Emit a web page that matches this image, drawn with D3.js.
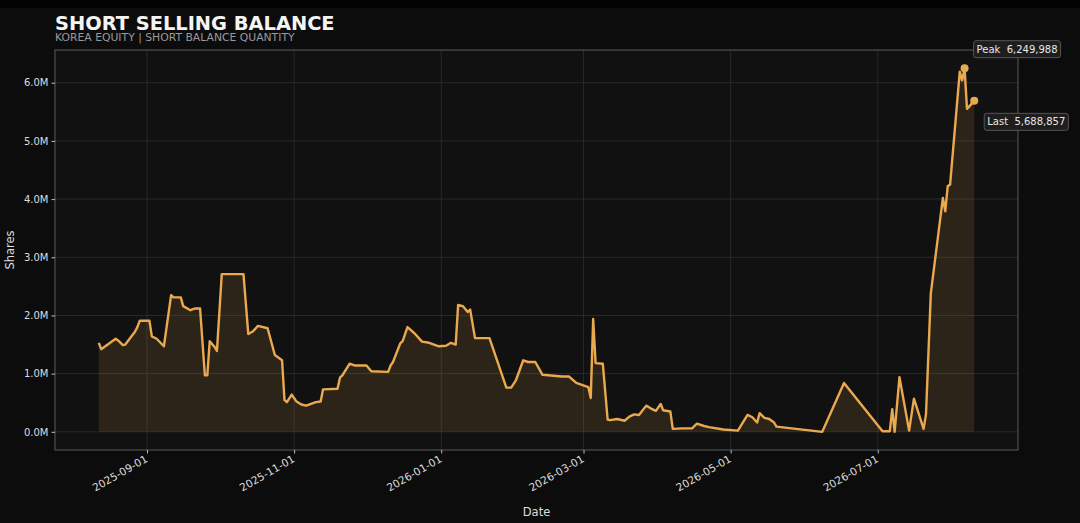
<!DOCTYPE html>
<html>
<head>
<meta charset="utf-8">
<script src="https://cdn.jsdelivr.net/npm/d3@7"></script>
<style>
  html, body { margin: 0; padding: 0; background: #0c0c0c; }
  svg { display: block; font-family: "DejaVu Sans", sans-serif; }
</style>
</head>
<body>
<div id="chart"></div>
<script>
const width = 1080;
const height = 523;

// short balance quantity (shares)
const dates = [
  "2025-08-12", "2025-08-13", "2025-08-19", "2025-08-20", "2025-08-22", "2025-08-23",
  "2025-08-27", "2025-08-28", "2025-08-29", "2025-09-02", "2025-09-03", "2025-09-05",
  "2025-09-08", "2025-09-11", "2025-09-12", "2025-09-15", "2025-09-16", "2025-09-19",
  "2025-09-21", "2025-09-23", "2025-09-25", "2025-09-26", "2025-09-27", "2025-09-29",
  "2025-09-30", "2025-10-02", "2025-10-11", "2025-10-13", "2025-10-15", "2025-10-17",
  "2025-10-21", "2025-10-24", "2025-10-27", "2025-10-28", "2025-10-29", "2025-10-31",
  "2025-11-02", "2025-11-04", "2025-11-06", "2025-11-10", "2025-11-12", "2025-11-13",
  "2025-11-19", "2025-11-20", "2025-11-21", "2025-11-24", "2025-11-26", "2025-12-01",
  "2025-12-03", "2025-12-10", "2025-12-11", "2025-12-12", "2025-12-15", "2025-12-16",
  "2025-12-18", "2025-12-21", "2025-12-24", "2025-12-27", "2025-12-31", "2026-01-03",
  "2026-01-05", "2026-01-07", "2026-01-08", "2026-01-10", "2026-01-12", "2026-01-13",
  "2026-01-15", "2026-01-21", "2026-01-28", "2026-01-30", "2026-02-01", "2026-02-04",
  "2026-02-06", "2026-02-09", "2026-02-12", "2026-02-20", "2026-02-23", "2026-02-26",
  "2026-03-03", "2026-03-04", "2026-03-05", "2026-03-06", "2026-03-09", "2026-03-11",
  "2026-03-12", "2026-03-15", "2026-03-18", "2026-03-20", "2026-03-22", "2026-03-24",
  "2026-03-27", "2026-03-29", "2026-03-31", "2026-04-02", "2026-04-03", "2026-04-06",
  "2026-04-07", "2026-04-11", "2026-04-15", "2026-04-17", "2026-04-20", "2026-04-22",
  "2026-04-28", "2026-05-04", "2026-05-08", "2026-05-10", "2026-05-12", "2026-05-13",
  "2026-05-15", "2026-05-17", "2026-05-19", "2026-05-20", "2026-06-08", "2026-06-17",
  "2026-07-03", "2026-07-06", "2026-07-07", "2026-07-08", "2026-07-10", "2026-07-14",
  "2026-07-16", "2026-07-20", "2026-07-21", "2026-07-23", "2026-07-28", "2026-07-29",
  "2026-07-30", "2026-07-31", "2026-08-04", "2026-08-05", "2026-08-06", "2026-08-07",
  "2026-08-10"
];

const balance = [
  1530000, 1420000, 1600000, 1570000, 1490000, 1500000,
  1720000, 1800000, 1910000, 1910000, 1640000, 1600000,
  1470000, 2350000, 2310000, 2310000, 2160000, 2090000,
  2120000, 2120000, 970000, 970000, 1556000, 1460000,
  1390000, 2710000, 2710000, 1680000, 1730000, 1820000,
  1780000, 1320000, 1230000, 550000, 510000, 640000,
  520000, 470000, 450000, 510000, 520000, 730000,
  740000, 930000, 970000, 1170000, 1140000, 1140000,
  1040000, 1030000, 1140000, 1200000, 1520000, 1560000,
  1800000, 1690000, 1550000, 1530000, 1470000, 1480000,
  1530000, 1500000, 2180000, 2160000, 2060000, 2100000,
  1610000, 1610000, 760000, 760000, 890000, 1230000,
  1200000, 1200000, 980000, 950000, 950000, 840000,
  770000, 580000, 1940000, 1180000, 1170000, 210000,
  200000, 220000, 190000, 260000, 300000, 290000,
  450000, 400000, 360000, 480000, 370000, 350000,
  50000, 60000, 60000, 140000, 100000, 80000,
  40000, 20000, 290000, 250000, 160000, 320000,
  240000, 220000, 160000, 90000, 0, 840000,
  10000, 10000, 390000, 0, 940000, 20000,
  570000, 50000, 300000, 2380000, 4020000, 3790000,
  4220000, 4250000, 6190000, 6040000, 6249988, 5550000,
  5688857
];

const yTickValues = [0, 1e6, 2e6, 3e6, 4e6, 5e6, 6e6];
const xTickLabels = ["2025-09-01", "2025-11-01", "2026-01-01", "2026-03-01", "2026-05-01", "2026-07-01"];

const parse = d3.timeParse("%Y-%m-%d");
const data = dates.map((d, i) => ({ date: parse(d), value: balance[i] }));

const margin = { top: 50, right: 62, bottom: 73, left: 55 };
const innerW = width - margin.left - margin.right;
const innerH = height - margin.top - margin.bottom;

const lineColor = "#eaa94f";

const svg = d3.select("#chart").append("svg")
  .attr("width", width)
  .attr("height", height);

svg.append("rect").attr("width", width).attr("height", height).attr("fill", "#0c0c0c");
svg.append("rect").attr("width", width).attr("height", 8).attr("fill", "#030303");

// matplotlib-like 5% margins
const [x0, x1] = d3.extent(data, (d) => d.date);
const xPad = (x1 - x0) * 0.05;
const yMax = d3.max(data, (d) => d.value);
const yPad = yMax * 0.05;

const x = d3.scaleTime()
  .domain([new Date(+x0 - xPad), new Date(+x1 + xPad)])
  .range([0, innerW]);

const y = d3.scaleLinear()
  .domain([-yPad, yMax + yPad])
  .range([innerH, 0]);

const g = svg.append("g").attr("transform", `translate(${margin.left},${margin.top})`);

g.append("rect").attr("width", innerW).attr("height", innerH).attr("fill", "#111111");

const xTicks = xTickLabels.map(parse);

// grid
g.append("g")
  .selectAll("line")
  .data(yTickValues)
  .join("line")
  .attr("x1", 0).attr("x2", innerW)
  .attr("y1", (d) => y(d)).attr("y2", (d) => y(d))
  .attr("stroke", "#2e2e2e").attr("stroke-width", 0.8);

g.append("g")
  .selectAll("line")
  .data(xTicks)
  .join("line")
  .attr("x1", (d) => x(d)).attr("x2", (d) => x(d))
  .attr("y1", 0).attr("y2", innerH)
  .attr("stroke", "#2e2e2e").attr("stroke-width", 0.8);

// area + line
const area = d3.area()
  .x((d) => x(d.date))
  .y0(y(0))
  .y1((d) => y(d.value));

const line = d3.line()
  .x((d) => x(d.date))
  .y((d) => y(d.value));

g.append("path")
  .datum(data)
  .attr("d", area)
  .attr("fill", lineColor)
  .attr("fill-opacity", 0.13);

g.append("path")
  .datum(data)
  .attr("d", line)
  .attr("fill", "none")
  .attr("stroke", lineColor)
  .attr("stroke-width", 2.4)
  .attr("stroke-linejoin", "round");

// frame
g.append("rect")
  .attr("width", innerW).attr("height", innerH)
  .attr("fill", "none").attr("stroke", "#5a5a5a").attr("stroke-width", 1);

// axes
const yAxis = g.append("g")
  .call(d3.axisLeft(y).tickValues(yTickValues).tickSize(3.5).tickPadding(3)
    .tickFormat((d) => d3.format(".1f")(d / 1e6) + "M"));
yAxis.select(".domain").remove();
yAxis.selectAll("line").attr("stroke", "#bbbbbb");
yAxis.selectAll("text").attr("fill", "#dddddd").attr("font-size", 10)
  .attr("font-family", "DejaVu Sans");

const xAxis = g.append("g")
  .attr("transform", `translate(0,${innerH})`)
  .call(d3.axisBottom(x).tickValues(xTicks).tickSize(3.5)
    .tickFormat(d3.timeFormat("%Y-%m-%d")));
xAxis.select(".domain").remove();
xAxis.selectAll("line").attr("stroke", "#bbbbbb");
xAxis.selectAll("text")
  .attr("fill", "#dddddd").attr("font-size", 10.6).attr("font-family", "DejaVu Sans")
  .attr("text-anchor", "end")
  .attr("dy", null).attr("y", 0)
  .attr("transform", "translate(1,11) rotate(-30)");

// axis titles
svg.append("text")
  .attr("x", margin.left + innerW / 2).attr("y", 516)
  .attr("text-anchor", "middle").attr("fill", "#dddddd").attr("font-size", 11.5)
  .text("Date");

svg.append("text")
  .attr("transform", `translate(14,${margin.top + innerH / 2}) rotate(-90)`)
  .attr("text-anchor", "middle").attr("fill", "#dddddd").attr("font-size", 11.5)
  .text("Shares");

// titles
svg.append("text")
  .attr("x", 55).attr("y", 30)
  .attr("fill", "#f4f4f4").attr("font-size", 19.4).attr("font-weight", "bold")
  .text("SHORT SELLING BALANCE");

svg.append("text")
  .attr("x", 55).attr("y", 40.5)
  .attr("fill", "#9a9a9a").attr("font-size", 10.8)
  .text("KOREA EQUITY | SHORT BALANCE QUANTITY");

// peak and last markers
const peak = data.reduce((a, b) => (b.value > a.value ? b : a));
const last = data[data.length - 1];
const fmt = d3.format(",");

const notes = [
  { d: peak, label: "Peak", dx: 8, dy: -19 },
  { d: last, label: "Last", dx: 9, dy: 21 }
];

g.selectAll(".marker")
  .data(notes)
  .join("circle")
  .attr("class", "marker")
  .attr("cx", (n) => x(n.d.date))
  .attr("cy", (n) => y(n.d.value))
  .attr("r", 4)
  .attr("fill", lineColor);

const note = g.selectAll(".note")
  .data(notes)
  .join("g")
  .attr("class", "note")
  .attr("transform", (n) => `translate(${x(n.d.date) + n.dx},${y(n.d.value) + n.dy})`);

note.append("text")
  .attr("x", 4).attr("y", 3.6)
  .attr("fill", "#e8e8e8").attr("font-size", 10)
  .attr("xml:space", "preserve")
  .text((n) => `${n.label}  ${fmt(n.d.value)}`);

note.each(function () {
  const t = d3.select(this).select("text");
  const bb = t.node().getBBox();
  d3.select(this).insert("rect", "text")
    .attr("x", bb.x - 3).attr("y", -8.5)
    .attr("width", bb.width + 6).attr("height", 17)
    .attr("rx", 2.5)
    .attr("fill", "#1e1e1e").attr("stroke", "#555555").attr("stroke-width", 1);
});
</script>
</body>
</html>
